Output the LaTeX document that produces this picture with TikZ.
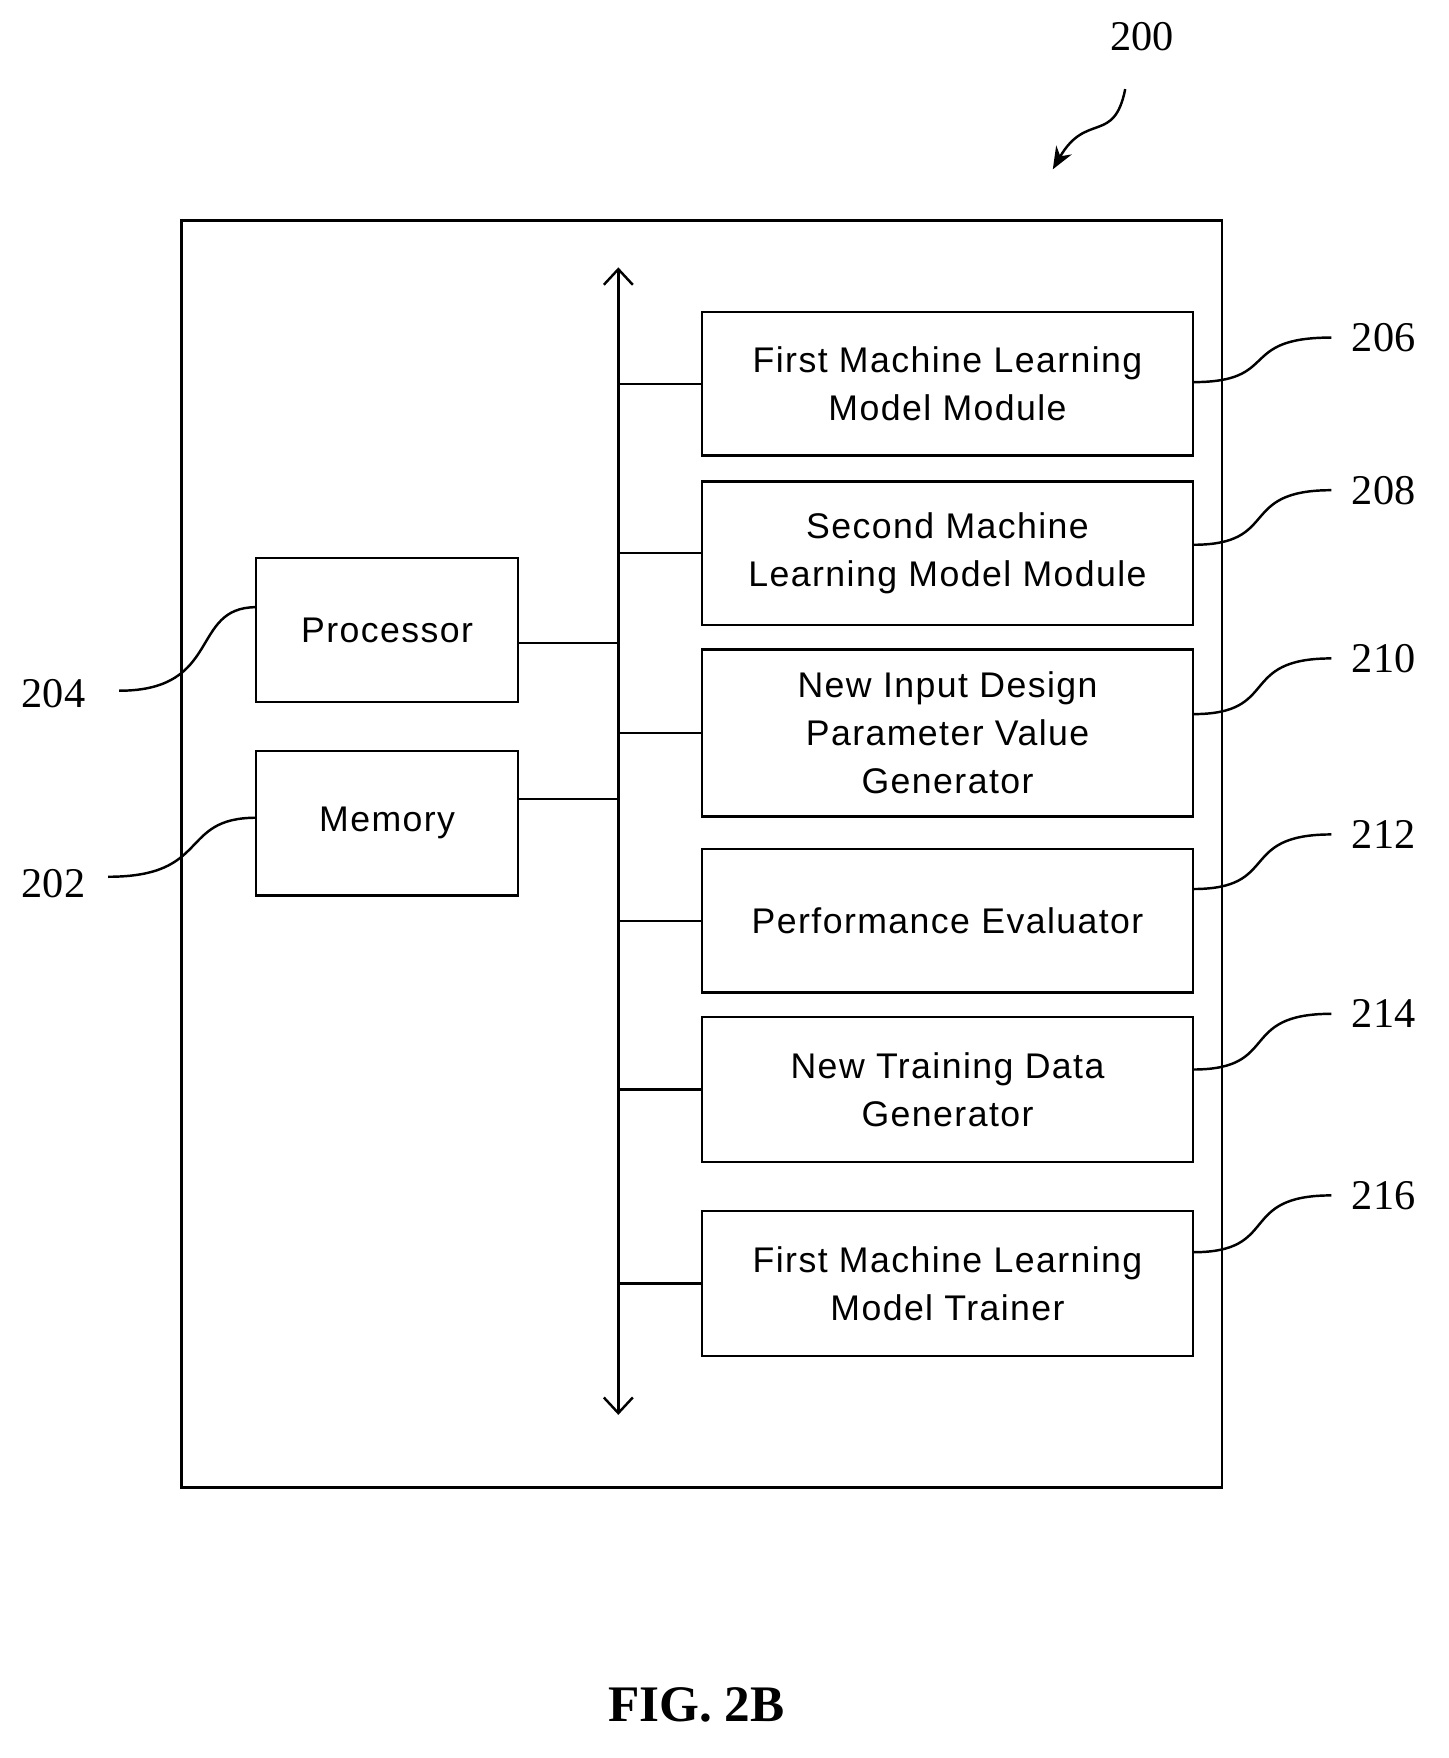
\documentclass[tikz,border=0pt]{standalone}
\usepackage{fontspec}
\setmainfont{Liberation Serif}
\newfontfamily\boxfont[LetterSpace=4]{Liberation Sans}
\usetikzlibrary{arrows.meta}
\begin{document}
\begin{tikzpicture}[x=1pt,y=-1pt,line width=2.2pt,
  blk/.style={draw,line width=2.2pt,inner sep=0,align=center,font=\boxfont\fontsize{32}{43}\selectfont},
  lbl/.style={font=\fontsize{38}{40}\selectfont},
  lead/.style={line width=2.2pt}]
\useasboundingbox (0,0) rectangle (1300,1578);
\draw (163,198) rectangle (1097,1335);
\coordinate (bt) at (555,240);
\coordinate (bb) at (555,1270);
\draw[{Straight Barb[length=14pt,width=26pt]}-{Straight Barb[length=14pt,width=26pt]}] (bt) -- (bb);
\node[blk,minimum width=441pt,minimum height=129pt] (b206) at (850.5,344.5) {First Machine Learning\\Model Module};
\node[blk,minimum width=441pt,minimum height=129pt] (b208) at (850.5,496.5) {Second Machine\\Learning Model Module};
\node[blk,minimum width=441pt,minimum height=150pt] (b210) at (850.5,658) {New Input Design\\Parameter Value\\Generator};
\node[blk,minimum width=441pt,minimum height=129pt] (b212) at (850.5,826.5) {Performance Evaluator};
\node[blk,minimum width=441pt,minimum height=130pt] (b214) at (850.5,978) {New Training Data\\Generator};
\node[blk,minimum width=441pt,minimum height=130pt] (b216) at (850.5,1152) {First Machine Learning\\Model Trainer};
\node[blk,minimum width=235pt,minimum height=129pt] (proc) at (347.5,565.5) {Processor};
\node[blk,minimum width=235pt,minimum height=130pt] (mem) at (347.5,739) {Memory};
\foreach \n in {b206,b208,b210,b212,b214,b216}
  \draw (\n.west) -- (\n.west -| bt);
\draw (465,577) -- (555,577);
\draw (465,717) -- (555,717);
% labels
\node[lbl] (l206) at (1242,303) {206};
\node[lbl] (l208) at (1242,440) {208};
\node[lbl] (l210) at (1242,591) {210};
\node[lbl] (l212) at (1242,749) {212};
\node[lbl] (l214) at (1242,910) {214};
\node[lbl] (l216) at (1242,1073) {216};
\node[lbl] (l204) at (48,623) {204};
\node[lbl] (l202) at (48,793) {202};
\node[lbl] (l200) at (1025,33) {200};
\draw[lead] (1071,343) .. controls (1150,343) and (1110,303) .. (1195,303);
\draw[lead] (1071,489) .. controls (1150,489) and (1110,440) .. (1195,440);
\draw[lead] (1071,641) .. controls (1150,641) and (1110,591) .. (1195,591);
\draw[lead] (1071,798) .. controls (1150,798) and (1110,749) .. (1195,749);
\draw[lead] (1071,960) .. controls (1150,960) and (1110,910) .. (1195,910);
\draw[lead] (1071,1124) .. controls (1150,1124) and (1110,1073) .. (1195,1073);
\draw[lead] (107,620) .. controls (200,620) and (170,545) .. (230,545);
\draw[lead] (97,787) .. controls (190,787) and (160,734) .. (230,734);
\draw[lead,-{Stealth[length=20pt,width=16pt]}] (1010,80) .. controls (1000,130) and (975,100) .. (945,152);
\node[font=\bfseries\fontsize{46}{48}\selectfont] (fig) at (625,1530) {FIG. 2B};
\end{tikzpicture}
\end{document}
